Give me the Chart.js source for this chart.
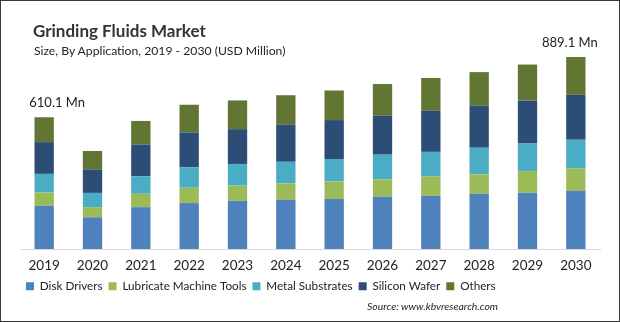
<!DOCTYPE html>
<html><head><meta charset="utf-8">
<script src="https://cdn.jsdelivr.net/npm/chart.js@4.4.1/dist/chart.umd.min.js"></script>
<style>
html,body{margin:0;padding:0;background:#fff;}
#wrap{position:relative;width:620px;height:322px;box-sizing:border-box;border:1px solid #3a3a3a;overflow:hidden;}
#title{position:absolute;left:32px;top:19px;font:bold 17px Lato,sans-serif;color:#333;white-space:nowrap;}
#sub{position:absolute;left:33px;top:42px;font:12.2px Lato,sans-serif;color:#222;white-space:nowrap;}
#src{position:absolute;right:121px;top:299px;font:italic 10.4px Lato,sans-serif;color:#222;white-space:nowrap;}
canvas{position:absolute;left:-1px;top:-1px;}
</style></head>
<body><div id="wrap">
<canvas id="c" width="620" height="322"></canvas>
<div id="title">Grinding Fluids Market</div>
<div id="sub">Size, By Application, 2019 - 2030 (USD Million)</div>
<div id="src">Source: www.kbvresearch.com</div>
</div>
<script>
const years = ["2019","2020","2021","2022","2023","2024","2025","2026","2027","2028","2029","2030"];
const diskDrivers = [200,147,194,213,223,228,232,242,246,256,261,270];
const lubricateMachineTools = [62,47,62,71,71,76,81,81,90,90,100,104];
const metalSubstrates = [86,66,81,95,100,100,104,114,114,123,128,132];
const siliconWafer = [147,109,147,161,161,171,180,180,190,194,199,208];
const others = [115.1,85,109,128,133,137,137,147,152,156,166,175.1];
const endLabels = [{index:0,text:"610.1 Mn",dx:13},{index:11,text:"889.1 Mn",dx:-6}];

const labelPlugin = {
  id:'endLabels',
  afterDatasetsDraw(chart){
    const ctx = chart.ctx;
    const meta = chart.getDatasetMeta(chart.data.datasets.length-1);
    ctx.save();
    ctx.font = '13px Lato, sans-serif';
    ctx.fillStyle = '#222';
    ctx.textAlign = 'center';
    ctx.textBaseline = 'middle';
    endLabels.forEach(l=>{
      const el = meta.data[l.index];
      ctx.fillText(l.text, el.x + l.dx, el.y - 14);
    });
    ctx.restore();
  }
};

new Chart(document.getElementById('c'),{
  type:'bar',
  data:{
    labels:years,
    datasets:[
      {label:'Disk Drivers',data:diskDrivers,backgroundColor:'#4f81bd'},
      {label:'Lubricate Machine Tools',data:lubricateMachineTools,backgroundColor:'#9bbb59'},
      {label:'Metal Substrates',data:metalSubstrates,backgroundColor:'#4bacc6'},
      {label:'Silicon Wafer',data:siliconWafer,backgroundColor:'#2c4d75'},
      {label:'Others',data:others,backgroundColor:'#617632'}
    ]
  },
  options:{
    responsive:false,
    animation:false,
    events:[],
    barPercentage:0.4,
    categoryPercentage:1,
    layout:{padding:{left:20,right:20,top:33,bottom:20}},
    scales:{
      x:{stacked:true,
        grid:{display:false,drawTicks:false},
        border:{display:true,color:'#d9d9d9',width:1},
        ticks:{color:'#222',font:{size:13.5,family:'Lato, sans-serif'},padding:8},
        afterFit(scale){ scale.height -= 7; }},
      y:{stacked:true,display:false,min:0,max:1000}
    },
    plugins:{
      legend:{position:'bottom',align:'start',
        labels:{boxWidth:8,boxHeight:8,padding:6,color:'#222',font:{size:11.7,family:'Lato, sans-serif'}}},
      tooltip:{enabled:false},
      title:{display:false}
    }
  },
  plugins:[labelPlugin]
});
</script>
</body></html>
